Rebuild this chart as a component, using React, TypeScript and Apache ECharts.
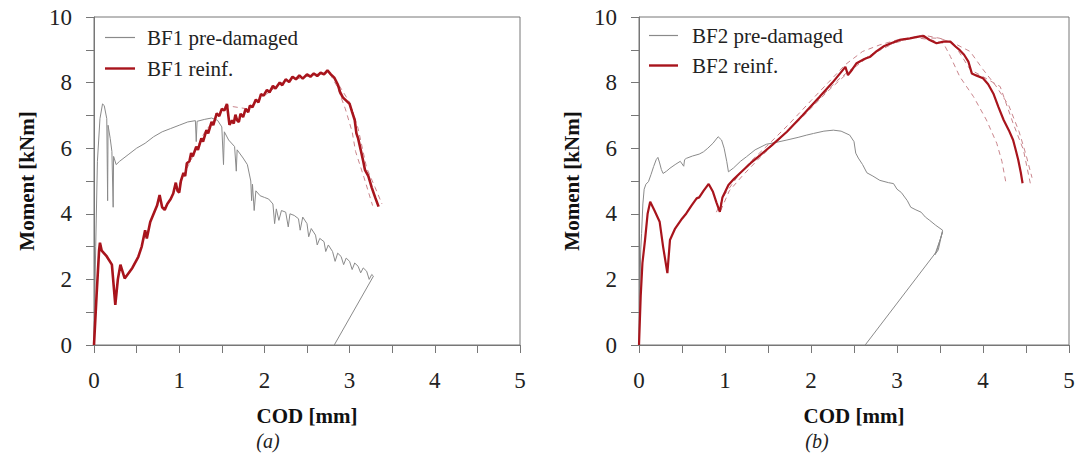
import React, { useEffect, useRef } from "react";
import * as echarts from "echarts";

// ---------- Data (COD [mm], Moment [kNm]) ----------
const bf1PreDamaged: number[][] = [
  [0, 0], [0.02, 3.0], [0.04, 5.6], [0.07, 6.9], [0.1, 7.35], [0.12, 7.3], [0.15, 6.9], [0.16, 4.4], [0.165, 6.7],
  [0.19, 6.3], [0.21, 5.9], [0.225, 4.2], [0.23, 5.75], [0.26, 5.5], [0.3, 5.6], [0.4, 5.8], [0.5, 6.0], [0.6, 6.15],
  [0.7, 6.35], [0.8, 6.5], [0.9, 6.6], [1.0, 6.7], [1.1, 6.8], [1.19, 6.84], [1.2, 6.2], [1.21, 6.82], [1.3, 6.88],
  [1.38, 6.92], [1.45, 6.85], [1.5, 6.65], [1.52, 5.5], [1.53, 6.5], [1.58, 6.25], [1.65, 6.05], [1.67, 5.3],
  [1.68, 5.95], [1.75, 5.7], [1.8, 5.5], [1.84, 5.0], [1.85, 4.4], [1.86, 4.9], [1.88, 4.1], [1.9, 4.7], [1.95, 4.55],
  [2.0, 4.5], [2.05, 4.45], [2.1, 4.3], [2.12, 3.7], [2.14, 4.15], [2.17, 3.8], [2.2, 4.1], [2.25, 4.05], [2.28, 3.6],
  [2.3, 4.0], [2.35, 3.95], [2.4, 3.85], [2.42, 3.5], [2.45, 3.9], [2.5, 3.7], [2.52, 3.3], [2.55, 3.55], [2.6, 3.35],
  [2.62, 3.05], [2.65, 3.25], [2.7, 3.15], [2.72, 2.85], [2.75, 3.05], [2.8, 2.85], [2.83, 2.55], [2.86, 2.8],
  [2.9, 2.7], [2.93, 2.45], [2.96, 2.65], [3.0, 2.55], [3.03, 2.3], [3.06, 2.5], [3.1, 2.4], [3.13, 2.2], [3.16, 2.35],
  [3.2, 2.25], [3.23, 2.0], [3.26, 2.15], [3.28, 2.1], [2.82, 0],
];

const bf1Reinf: number[][] = [
  [0, 0], [0.03, 1.5], [0.06, 2.9], [0.07, 3.12], [0.09, 2.88], [0.15, 2.7], [0.21, 2.45], [0.25, 1.22], [0.28, 2.0],
  [0.31, 2.45], [0.36, 2.03], [0.45, 2.35], [0.52, 2.69], [0.56, 3.0], [0.6, 3.5], [0.62, 3.25], [0.66, 3.75],
  [0.7, 4.0], [0.74, 4.25], [0.77, 4.57], [0.8, 4.2], [0.83, 4.12], [0.86, 4.3], [0.9, 4.45], [0.93, 4.62],
  [0.96, 4.95], [0.98, 4.7], [1.0, 4.65], [1.02, 5.0], [1.05, 5.25], [1.07, 5.15], [1.09, 5.54], [1.12, 5.6],
  [1.14, 5.85], [1.16, 5.75], [1.2, 6.05], [1.22, 5.95], [1.26, 6.3], [1.28, 6.2], [1.32, 6.55], [1.34, 6.45],
  [1.38, 6.8], [1.4, 6.7], [1.44, 7.06], [1.47, 6.98], [1.5, 7.2], [1.53, 7.15], [1.56, 7.35], [1.59, 6.71],
  [1.62, 6.85], [1.64, 6.75], [1.66, 7.02], [1.68, 6.85], [1.7, 6.8], [1.72, 7.05], [1.75, 6.95], [1.78, 7.2],
  [1.81, 7.1], [1.83, 7.3], [1.86, 7.25], [1.9, 7.48], [1.93, 7.4], [1.96, 7.65], [1.99, 7.6], [2.03, 7.78],
  [2.06, 7.7], [2.1, 7.9], [2.13, 7.82], [2.18, 8.0], [2.21, 7.92], [2.25, 8.1], [2.29, 8.02], [2.33, 8.18],
  [2.37, 8.1], [2.41, 8.22], [2.45, 8.12], [2.5, 8.25], [2.54, 8.18], [2.58, 8.28], [2.62, 8.2], [2.66, 8.3],
  [2.7, 8.25], [2.74, 8.37], [2.78, 8.25], [2.82, 8.15], [2.86, 7.95], [2.89, 7.7], [2.92, 7.55], [2.96, 7.45],
  [3.0, 7.35], [3.03, 7.1], [3.06, 6.86], [3.08, 6.45], [3.1, 6.3], [3.13, 5.95], [3.16, 5.6], [3.18, 5.34],
  [3.22, 5.15], [3.26, 4.8], [3.3, 4.5], [3.34, 4.22],
];

const bf1DashedA: number[][] = [
  [1.0, 4.9], [1.3, 6.5], [1.55, 7.3], [1.8, 7.2], [2.2, 8.0], [2.6, 8.25], [2.76, 8.3], [2.85, 7.9], [2.95, 7.2],
  [3.03, 6.5], [3.07, 5.9], [3.17, 5.1], [3.27, 4.25],
];
const bf1DashedB: number[][] = [
  [2.75, 8.35], [2.88, 7.9], [3.0, 7.4], [3.1, 6.6], [3.2, 5.4], [3.3, 4.8], [3.38, 4.3],
];

const bf2PreDamaged: number[][] = [
  [0, 0], [0.01, 1.5], [0.02, 2.9], [0.03, 3.4], [0.045, 4.3], [0.06, 4.75], [0.08, 4.9], [0.11, 4.98], [0.14, 5.2],
  [0.17, 5.44], [0.2, 5.65], [0.22, 5.72], [0.24, 5.55], [0.26, 5.35], [0.28, 5.23], [0.32, 5.3], [0.36, 5.39],
  [0.42, 5.5], [0.48, 5.6], [0.52, 5.45], [0.53, 5.65], [0.55, 5.69], [0.62, 5.76], [0.7, 5.82], [0.75, 5.89],
  [0.8, 6.0], [0.86, 6.15], [0.92, 6.35], [0.96, 6.25], [0.99, 6.0], [1.02, 5.6], [1.04, 5.28], [1.1, 5.4],
  [1.18, 5.6], [1.25, 5.74], [1.35, 5.95], [1.48, 6.12], [1.6, 6.18], [1.72, 6.25], [1.85, 6.33], [1.95, 6.4],
  [2.03, 6.45], [2.15, 6.52], [2.26, 6.55], [2.35, 6.52], [2.45, 6.4], [2.5, 6.2], [2.52, 5.85], [2.55, 5.7],
  [2.6, 5.5], [2.65, 5.25], [2.72, 5.15], [2.8, 5.02], [2.9, 4.95], [2.96, 4.92], [3.0, 4.75], [3.05, 4.65],
  [3.12, 4.4], [3.16, 4.2], [3.22, 4.12], [3.28, 4.05], [3.33, 3.9], [3.38, 3.8], [3.45, 3.65], [3.53, 3.5],
  [3.48, 2.9], [3.44, 2.75], [3.5, 3.2], [3.53, 3.45], [3.46, 2.85], [2.63, 0],
];

const bf2Reinf: number[][] = [
  [0, 0], [0.02, 1.5], [0.04, 2.5], [0.07, 3.2], [0.1, 4.0], [0.13, 4.37], [0.18, 4.1], [0.24, 3.76], [0.28, 3.0],
  [0.33, 2.19], [0.36, 3.2], [0.42, 3.55], [0.5, 3.85], [0.55, 4.01], [0.61, 4.25], [0.67, 4.47], [0.7, 4.5],
  [0.75, 4.7], [0.81, 4.91], [0.86, 4.67], [0.9, 4.35], [0.94, 4.06], [0.97, 4.5], [1.04, 4.88], [1.1, 5.05],
  [1.17, 5.23], [1.3, 5.55], [1.41, 5.79], [1.55, 6.1], [1.72, 6.5], [1.9, 7.0], [2.1, 7.57], [2.25, 8.0],
  [2.4, 8.48], [2.43, 8.23], [2.48, 8.4], [2.53, 8.59], [2.62, 8.72], [2.69, 8.79], [2.76, 8.95], [2.84, 9.1],
  [2.93, 9.2], [3.03, 9.3], [3.15, 9.35], [3.25, 9.4], [3.31, 9.42], [3.38, 9.3], [3.46, 9.2], [3.54, 9.25],
  [3.62, 9.25], [3.68, 9.1], [3.73, 8.99], [3.78, 8.85], [3.83, 8.64], [3.87, 8.28], [3.92, 8.22], [4.0, 8.13],
  [4.06, 7.95], [4.12, 7.67], [4.18, 7.25], [4.24, 6.86], [4.3, 6.55], [4.35, 6.25], [4.38, 5.95], [4.41, 5.64],
  [4.44, 5.25], [4.46, 4.93],
];

const bf2DashedA: number[][] = [
  [0.9, 4.05], [1.0, 4.6], [1.15, 5.15], [1.3, 5.6], [1.5, 6.1], [1.75, 6.75], [2.0, 7.45], [2.2, 8.0], [2.4, 8.55],
  [2.6, 8.95], [2.8, 9.15], [3.0, 9.3], [3.2, 9.38], [3.4, 9.3], [3.54, 9.2], [3.62, 8.8], [3.73, 8.18],
  [3.89, 7.57], [4.04, 6.86], [4.16, 6.15], [4.22, 5.6], [4.27, 4.9],
];
const bf2DashedB: number[][] = [
  [0.95, 4.1], [1.05, 4.7], [1.2, 5.15], [1.4, 5.7], [1.6, 6.2], [1.9, 6.95], [2.2, 7.75], [2.45, 8.35], [2.7, 8.85],
  [3.0, 9.25], [3.3, 9.45], [3.5, 9.35], [3.65, 9.2], [3.73, 8.9], [3.85, 8.4], [4.0, 8.18], [4.2, 7.88],
  [4.35, 6.76], [4.47, 5.95], [4.55, 4.93],
];
const bf2DashedC: number[][] = [
  [2.0, 7.25], [2.3, 8.05], [2.6, 8.7], [2.9, 9.15], [3.2, 9.38], [3.5, 9.35], [3.7, 9.15], [3.85, 8.95], [4.0, 8.4],
  [4.15, 7.9], [4.3, 7.3], [4.42, 6.5], [4.5, 5.8], [4.57, 5.1],
];

const xTicks = { min: 0, max: 5, interval: 1 };
const yTicks = { min: 0, max: 10, interval: 2 };
const panelLabels = ["(a)", "(b)"];

// ---------- Styles ----------
const SERIF = "Liberation Serif, Times New Roman, serif";
const AXIS_COLOR = "#777";
const TEXT_COLOR = "#222";
const GRAY = "#8a8a8a";
const RED = "#a8141c";
const DASH = "#c9858c";

function makeXAxis(gridIndex: number) {
  return {
    gridIndex,
    type: "value",
    ...xTicks,
    axisLine: { show: true, lineStyle: { color: AXIS_COLOR, width: 1 } },
    axisTick: { show: true, length: 8, lineStyle: { color: AXIS_COLOR } },
    minorTick: { show: true, splitNumber: 2, length: 8, lineStyle: { color: AXIS_COLOR } },
    splitLine: { show: false },
    axisLabel: { margin: 24, fontFamily: SERIF, fontSize: 23, color: TEXT_COLOR },
    name: "COD [mm]",
    nameLocation: "middle",
    nameGap: 60,
    nameTextStyle: { fontFamily: SERIF, fontWeight: "bold", fontSize: 21, color: "#111" },
  };
}

function makeYAxis(gridIndex: number) {
  return {
    gridIndex,
    type: "value",
    ...yTicks,
    axisLine: { show: true, lineStyle: { color: AXIS_COLOR, width: 1 } },
    axisTick: { show: true, length: 8, lineStyle: { color: AXIS_COLOR } },
    minorTick: { show: true, splitNumber: 2, length: 8, lineStyle: { color: AXIS_COLOR } },
    splitLine: { show: false },
    axisLabel: { margin: 22, fontFamily: SERIF, fontSize: 23, color: TEXT_COLOR },
    name: "Moment [kNm]",
    nameLocation: "middle",
    nameGap: 57,
    nameTextStyle: { fontFamily: SERIF, fontWeight: "bold", fontSize: 21, color: "#111" },
  };
}

function lineSeries(name: string, data: number[][], idx: number, color: string, width: number, z: number, dashed = false) {
  return {
    name,
    type: "line",
    xAxisIndex: idx,
    yAxisIndex: idx,
    data,
    symbol: "none",
    silent: true,
    z,
    lineStyle: { color, width, type: dashed ? [5, 4] : "solid" },
    itemStyle: { color },
  };
}

function legendItem(name: string, left: number, top: number, itemWidth: number, itemHeight: number, gap: number) {
  return {
    data: [{ name, icon: "rect" }],
    left,
    top,
    padding: 0,
    itemWidth,
    itemHeight,
    selectedMode: false,
    textStyle: { fontFamily: SERIF, fontSize: 21, color: TEXT_COLOR, padding: [0, 0, 0, gap] },
  };
}

export default function App() {
  const ref = useRef<HTMLDivElement>(null);
  useEffect(() => {
    if (!ref.current) return;
    const chart = echarts.init(ref.current, null, { renderer: "svg" });
    chart.setOption({
      animation: false,
      backgroundColor: "#fff",
      grid: [
        { left: 94, top: 17, width: 426, height: 328, show: true, borderColor: AXIS_COLOR, borderWidth: 1, backgroundColor: "transparent" },
        { left: 639, top: 17, width: 430, height: 328, show: true, borderColor: AXIS_COLOR, borderWidth: 1, backgroundColor: "transparent" },
      ],
      xAxis: [makeXAxis(0), makeXAxis(1)],
      yAxis: [makeYAxis(0), makeYAxis(1)],
      legend: [
        legendItem("BF1 pre-damaged", 105, 27, 30, 1.2, 7),
        legendItem("BF1 reinf.", 105, 58, 30, 2.4, 7),
        legendItem("BF2 pre-damaged", 649, 25, 29, 1.2, 9),
        legendItem("BF2 reinf.", 649, 55, 29, 2.4, 9),
      ],
      series: [
        lineSeries("BF1 pre-damaged", bf1PreDamaged, 0, GRAY, 1, 2),
        lineSeries("BF1 dashed A", bf1DashedA, 0, DASH, 1, 2, true),
        lineSeries("BF1 dashed B", bf1DashedB, 0, DASH, 1, 2, true),
        lineSeries("BF1 reinf.", bf1Reinf, 0, RED, 2.6, 3),
        lineSeries("BF2 pre-damaged", bf2PreDamaged, 1, GRAY, 1, 2),
        lineSeries("BF2 dashed A", bf2DashedA, 1, DASH, 1, 2, true),
        lineSeries("BF2 dashed B", bf2DashedB, 1, DASH, 1, 2, true),
        lineSeries("BF2 dashed C", bf2DashedC, 1, DASH, 1, 2, true),
        lineSeries("BF2 reinf.", bf2Reinf, 1, RED, 2.2, 3),
      ],
      graphic: [
        {
          type: "text",
          x: 268,
          y: 441,
          style: { text: panelLabels[0], fontFamily: SERIF, fontStyle: "italic", fontSize: 20, fill: TEXT_COLOR, textAlign: "center", textVerticalAlign: "middle" },
        },
        {
          type: "text",
          x: 817,
          y: 441,
          style: { text: panelLabels[1], fontFamily: SERIF, fontStyle: "italic", fontSize: 20, fill: TEXT_COLOR, textAlign: "center", textVerticalAlign: "middle" },
        },
      ],
    });
    return () => chart.dispose();
  }, []);
  return <div ref={ref} style={{ position: "fixed", left: 0, top: 0, width: 1082, height: 459 }} />;
}
